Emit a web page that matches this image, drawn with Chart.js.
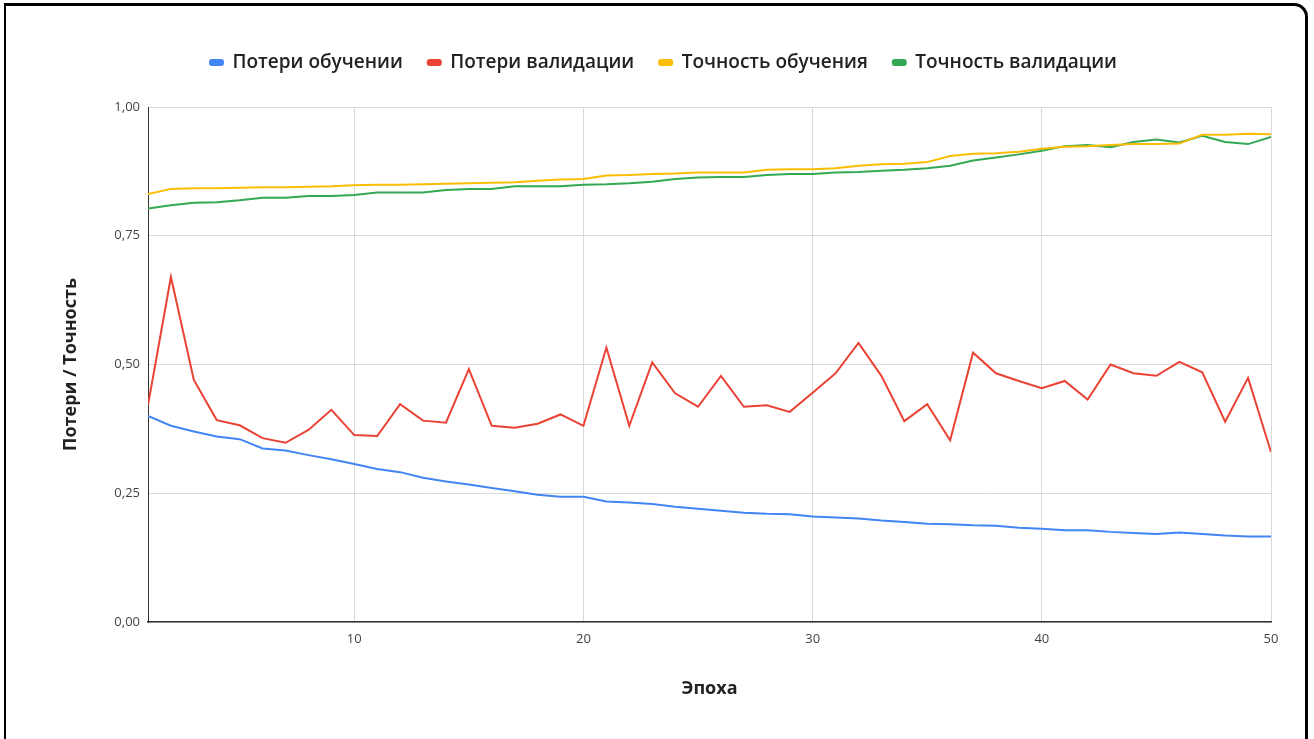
<!DOCTYPE html>
<html lang="ru">
<head>
<meta charset="utf-8">
<title>Потери / Точность</title>
<script src="https://cdn.jsdelivr.net/npm/chart.js@4/dist/chart.umd.min.js"></script>
<style>
  html, body { margin: 0; padding: 0; background: #fff; }
  #wrap { position: relative; width: 1314px; height: 739px; overflow: hidden; }
  #chart { position: absolute; left: 0; top: 0; }
  #frame {
    position: absolute; left: 4px; top: 3px; width: 1299px; height: 800px;
    border-top: 3px solid #000; border-left: 2px solid #000; border-right: 3px solid #000;
    border-top-right-radius: 14px; pointer-events: none;
  }
</style>
</head>
<body>
<div id="wrap">
  <canvas id="chart" width="1314" height="739"></canvas>
  <div id="frame"></div>
</div>
<script>
// Epoch numbers (x axis)
const epochs = [1,2,3,4,5,6,7,8,9,10,11,12,13,14,15,16,17,18,19,20,21,22,23,24,25,
                26,27,28,29,30,31,32,33,34,35,36,37,38,39,40,41,42,43,44,45,46,47,48,49,50];

// Training loss per epoch
const trainLoss = [0.400,0.381,0.370,0.360,0.355,0.337,0.333,0.324,0.316,0.307,
                   0.297,0.291,0.280,0.273,0.267,0.260,0.254,0.247,0.243,0.243,
                   0.234,0.232,0.229,0.224,0.220,0.216,0.212,0.210,0.209,0.205,
                   0.203,0.201,0.197,0.194,0.191,0.190,0.188,0.187,0.183,0.181,
                   0.178,0.178,0.175,0.173,0.171,0.174,0.171,0.168,0.166,0.166];

// Validation loss per epoch
const valLoss = [0.421,0.670,0.470,0.392,0.382,0.357,0.348,0.373,0.412,0.363,
                 0.361,0.423,0.391,0.387,0.491,0.381,0.377,0.385,0.403,0.381,
                 0.533,0.381,0.504,0.444,0.418,0.478,0.418,0.421,0.408,0.445,
                 0.483,0.542,0.478,0.390,0.423,0.353,0.523,0.483,0.468,0.454,
                 0.468,0.432,0.500,0.483,0.478,0.505,0.485,0.389,0.474,0.330];

// Training accuracy per epoch
const trainAcc = [0.831,0.841,0.842,0.842,0.843,0.844,0.844,0.845,0.846,0.848,
                  0.849,0.849,0.850,0.851,0.852,0.853,0.854,0.857,0.859,0.860,
                  0.867,0.868,0.870,0.871,0.873,0.873,0.873,0.878,0.879,0.879,
                  0.881,0.886,0.889,0.890,0.893,0.905,0.909,0.910,0.913,0.919,
                  0.923,0.924,0.926,0.928,0.928,0.929,0.946,0.946,0.948,0.947];

// Validation accuracy per epoch
const valAcc = [0.803,0.809,0.814,0.815,0.819,0.824,0.824,0.827,0.827,0.829,
                0.834,0.834,0.834,0.839,0.841,0.841,0.846,0.846,0.846,0.849,
                0.850,0.852,0.855,0.860,0.863,0.864,0.864,0.868,0.870,0.870,
                0.873,0.874,0.876,0.878,0.881,0.886,0.896,0.902,0.908,0.915,
                0.924,0.926,0.922,0.932,0.937,0.931,0.944,0.932,0.928,0.942];

const seriesNames = ['Потери обучении', 'Потери валидации', 'Точность обучения', 'Точность валидации'];
const seriesColors = ['#4285F4', '#EA4335', '#FBBC04', '#34A853'];
const xTicks = [10, 20, 30, 40, 50];
const yTicks = [0, 0.25, 0.5, 0.75, 1];
const xTitle = 'Эпоха';
const yTitle = 'Потери / Точность';

const FONT = '"Open Sans", Roboto, "Liberation Sans", Arial, sans-serif';

function toPoints(values) {
  return values.map((v, i) => ({ x: epochs[i], y: v }));
}

// Empty band between the legend and the plot area
const gapBox = {
  position: 'top', weight: 0, fullSize: true,
  options: {},
  width: 0, height: 0,
  isHorizontal() { return true; },
  update(maxWidth) { this.width = maxWidth; this.height = 25; return this.height; },
  draw() {},
  _layers() { return [{ z: 0, draw: () => {} }]; }
};
const gapPlugin = {
  id: 'legendGap',
  beforeInit(chart) { Chart.layouts.addBox(chart, gapBox); }
};

const datasets = [trainLoss, valLoss, trainAcc, valAcc].map((vals, i) => ({
  label: seriesNames[i],
  data: toPoints(vals),
  borderColor: seriesColors[i],
  backgroundColor: seriesColors[i],
  borderWidth: 2,
  pointRadius: 0,
  pointHoverRadius: 0,
  tension: 0,
  fill: false
}));

new Chart(document.getElementById('chart'), {
  type: 'line',
  data: { datasets },
  plugins: [gapPlugin],
  options: {
    responsive: false,
    animation: false,
    layout: { padding: { left: 56, right: 43, top: 28, bottom: 35 } },
    plugins: {
      tooltip: { enabled: false },
      legend: {
        position: 'top',
        align: 'center',
        labels: {
          color: '#222',
          font: { family: FONT, size: 19, weight: '600' },
          boxWidth: 13,
          boxHeight: 5,
          useBorderRadius: true,
          borderRadius: 2,
          padding: 25
        }
      }
    },
    scales: {
      x: {
        type: 'linear',
        min: 1,
        max: 50,
        afterBuildTicks(scale) { scale.ticks = xTicks.map(v => ({ value: v })); },
        afterFit(scale) { scale.height = 82; },
        grid: { color: '#d9d9d9', lineWidth: 1, drawTicks: false },
        border: { display: true, color: '#333', width: 1.5 },
        ticks: {
          color: '#444',
          font: { family: FONT, size: 13 },
          padding: 9,
          maxRotation: 0
        },
        title: {
          display: true,
          text: xTitle,
          color: '#222',
          font: { family: FONT, size: 18, weight: 'bold' },
          padding: { top: 4, bottom: 4 }
        }
      },
      y: {
        min: 0,
        max: 1,
        afterBuildTicks(scale) { scale.ticks = yTicks.map(v => ({ value: v })); },
        afterFit(scale) { scale.width = 92; },
        grid: { color: '#d9d9d9', lineWidth: 1, drawTicks: false },
        border: { display: true, color: '#333', width: 1 },
        ticks: {
          color: '#444',
          font: { family: FONT, size: 13 },
          padding: 8,
          callback: (v) => v.toFixed(2).replace('.', ',')
        },
        title: {
          display: true,
          text: yTitle,
          color: '#222',
          font: { family: FONT, size: 18, weight: 'bold' },
          padding: { top: 4, bottom: 4 }
        }
      }
    }
  }
});
</script>
</body>
</html>
